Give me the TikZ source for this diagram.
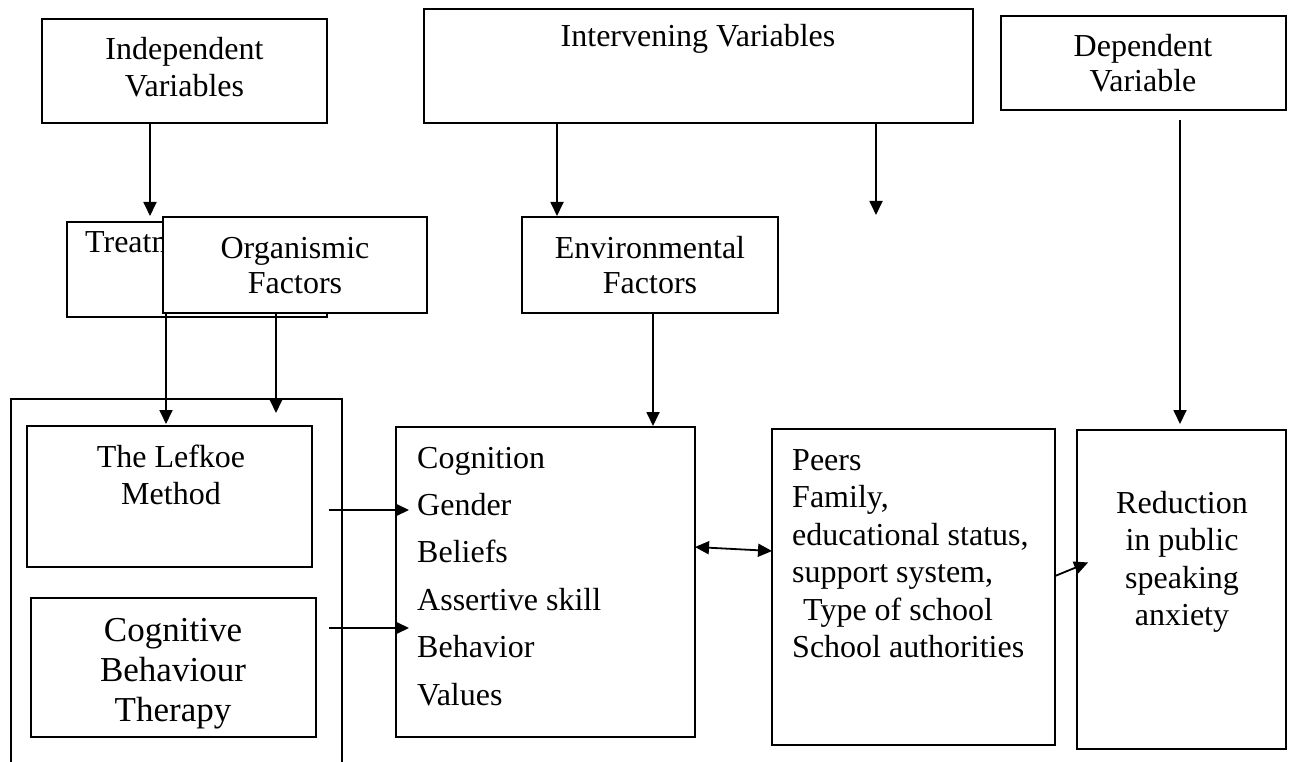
\documentclass[tikz,border=0pt]{standalone}
\usepackage{fontspec}
\setmainfont{Liberation Serif}
\usetikzlibrary{arrows.meta}

\tikzset{
  box/.style={draw, line width=1.8pt, rectangle, inner sep=0pt, outer sep=0pt,
              anchor=north west, fill=white},
  txt/.style={inner sep=0pt, align=center, anchor=base, font=\fontsize{32}{37}\selectfont},
  ltxt/.style={txt, align=left, anchor=base west},
}

\begin{document}
\begin{tikzpicture}[x=1pt,y=-1pt]
  \useasboundingbox (0,0) rectangle (1293,762);

  % top row (text nodes sit on the baseline of their last line)
  \node[box, minimum width=285pt, minimum height=104pt] (indep) at (42,19) {};
  \node[txt] (indep-t) at (184.5,97) {Independent\\Variables};
  \node[box, minimum width=549pt, minimum height=114pt] (interv) at (424,9) {};
  \node[txt] (interv-t) at (698,47) {Intervening Variables};
  \node[box, minimum width=285pt, minimum height=94pt] (depend) at (1001,16) {};
  \node[txt, font=\fontsize{32}{35}\selectfont] (depend-t) at (1143,92) {Dependent\\Variable};

  % second row
  \node[box, minimum width=260pt, minimum height=95pt] (treat) at (67,222) {};
  \node[ltxt] (treat-t) at (85,252) {Treatment};
  \node[box, minimum width=264pt, minimum height=96pt] (organ) at (163,217) {};
  \node[txt, font=\fontsize{32}{35}\selectfont] (organ-t) at (295,293) {Organismic\\Factors};
  \node[box, minimum width=256pt, minimum height=96pt] (env) at (522,217) {};
  \node[txt, font=\fontsize{32}{35}\selectfont] (env-t) at (650,293) {Environmental\\Factors};

  % bottom row
  \node[box, minimum width=331pt, minimum height=420pt] (group) at (11,399) {};
  \node[box, minimum width=285pt, minimum height=141pt] (lefkoe) at (27,426) {};
  \node[txt] (lefkoe-t) at (171,504) {The Lefkoe\\Method};
  \node[box, minimum width=285pt, minimum height=139pt] (cbt) at (31,598) {};
  \node[txt, font=\fontsize{35}{40}\selectfont] (cbt-t) at (173,721) {Cognitive\\Behaviour\\Therapy};
  \node[box, minimum width=299pt, minimum height=310pt] (cog) at (396,427) {};
  \node[ltxt, font=\fontsize{32}{47.4}\selectfont] (cog-t) at (417,705)
    {Cognition\\Gender\\Beliefs\\Assertive skill\\Behavior\\Values};
  \node[box, minimum width=283pt, minimum height=316pt] (peers) at (772,429) {};
  \node[ltxt, font=\fontsize{32}{37.5}\selectfont] (peers-t) at (792,657.5)
    {Peers\\Family,\\educational status,\\support system,\\\hspace*{11pt}Type of school\\School authorities};
  \node[box, minimum width=209pt, minimum height=319pt] (reduc) at (1077,430) {};
  \node[txt, font=\fontsize{32}{37.5}\selectfont] (reduc-t) at (1182,625.5)
    {Reduction\\in public\\speaking\\anxiety};

  % loose arrow ends
  \coordinate (orgtip) at (276,413);
  \coordinate (intip) at (876,215);
  \coordinate (la) at (329,510);
  \coordinate (lb) at (329,628);

  \begin{scope}[>={Triangle[length=14pt,width=13pt]}, line width=1.8pt]
    \draw[->, shorten >=6pt] ([xshift=108pt]indep.south west) -- ([xshift=83pt]treat.north west);
    \draw[->, shorten >=2pt] ([xshift=3pt]organ.south west) -- ([xshift=139pt]lefkoe.north west);
    \draw[->] ([xshift=113pt]organ.south west) -- (orgtip);
    \draw[->, shorten >=1pt] ([xshift=133pt]interv.south west) -- ([xshift=35pt]env.north west);
    \draw[->] ([xshift=452pt]interv.south west) -- (intip);
    \draw[->, shorten >=1pt] ([xshift=131pt]env.south west) -- ([xshift=257pt]cog.north west);
    \draw[->, shorten >=6pt] ([xshift=179pt,yshift=-10pt]depend.south west) -- ([xshift=103pt]reduc.north west);
    \draw[->, shorten >=-13pt] (la) -- (la -| cog.west);
    \draw[->, shorten >=-13pt] (lb) -- (lb -| cog.west);
    \draw[<->] ([yshift=35pt]cog.east) -- ([yshift=36pt]peers.west);
    \draw[->, shorten >=-12pt] ([yshift=11pt]peers.east) -- ([yshift=22.5pt]reduc.west);
  \end{scope}
\end{tikzpicture}
\end{document}
